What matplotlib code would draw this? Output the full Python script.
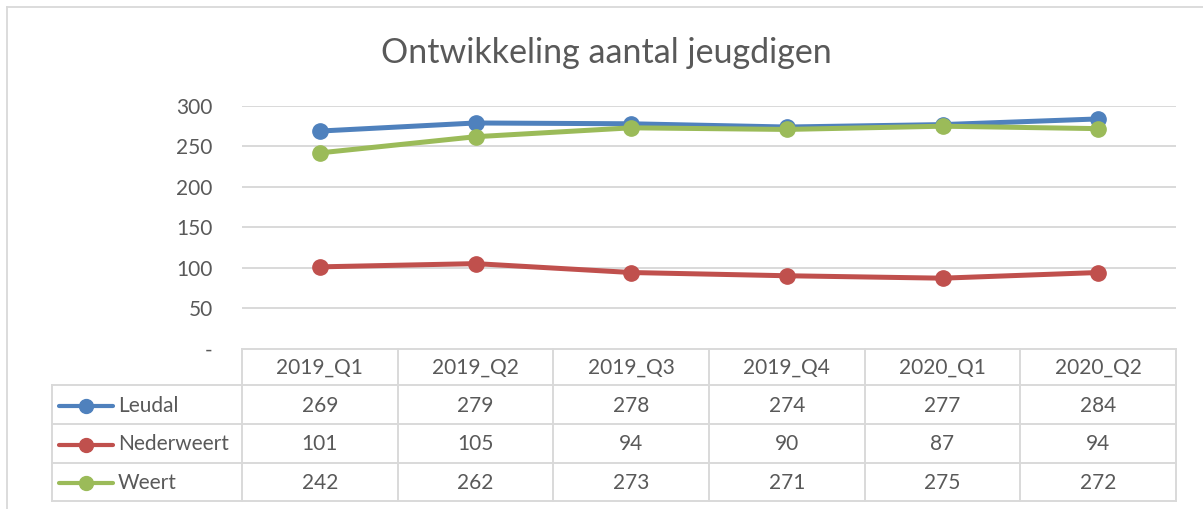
import matplotlib
matplotlib.use("Agg")
import matplotlib.pyplot as plt
from matplotlib.lines import Line2D

plt.rcParams['font.family'] = ['Lato', 'DejaVu Sans']

# ---- data ----
categories = ["2019_Q1", "2019_Q2", "2019_Q3", "2019_Q4", "2020_Q1", "2020_Q2"]
series_names = ["Leudal", "Nederweert", "Weert"]
leudal = [269, 279, 278, 274, 277, 284]
nederweert = [101, 105, 94, 90, 87, 94]
weert = [242, 262, 273, 271, 275, 272]
series_values = [leudal, nederweert, weert]
colors = ["#4F81BD", "#C0504D", "#9BBB59"]
y_ticks = [0, 50, 100, 150, 200, 250, 300]
y_ticklabels = ["-", "50", "100", "150", "200", "250", "300"]
title = "Ontwikkeling aantal jeugdigen"

# ---- layout (pixels) ----
W, H = 1203, 509
TXT = "#595959"
GRID = "#D9D9D9"
fig = plt.figure(figsize=(W / 100, H / 100), dpi=100)
fig.patch.set_facecolor("white")

pl, pr, pt, pb = 242, 1176, 106, 348.5
ax = fig.add_axes([pl / W, 1 - pb / H, (pr - pl) / W, (pb - pt) / H])
ax.set_xlim(-0.5, len(categories) - 0.5)
ax.set_ylim(0, 300)
for s in ax.spines.values():
    s.set_visible(False)
ax.set_xticks([])
ax.set_yticks(y_ticks)
ax.set_yticklabels(y_ticklabels)
ax.tick_params(axis="y", length=0, pad=21, labelsize=15, labelcolor=TXT)
for v in y_ticks[1:]:
    ax.axhline(v, color=GRID, lw=1.4, zorder=1)
ax.set_facecolor("none")

x = list(range(len(categories)))
for name, vals, c in zip(series_names, series_values, colors):
    ax.plot(x, vals, color=c, lw=3.6, marker="o", markersize=11,
            solid_capstyle="round", zorder=3, clip_on=False)

# ---- overlay in pixel coordinates for table / border ----
ov = fig.add_axes([0, 0, 1, 1], zorder=-1)
ov.set_xlim(0, W)
ov.set_ylim(H, 0)
ov.axis("off")

# outer chart border
ov.add_line(Line2D([7, 7], [7, H], color=GRID, lw=1.3))
ov.add_line(Line2D([7, W], [7, 7], color=GRID, lw=1.3))

# title
ov.text(606, 53, title, ha="center", va="center", fontsize=24.5, color=TXT)

# table geometry
ncol = len(categories)
colw = (pr - pl) / ncol
tleft = 52
row_y = [349, 385, 424, 463, 501]
lw_t = 1.4
# horizontal lines
ov.add_line(Line2D([pl, pr], [row_y[0], row_y[0]], color=GRID, lw=lw_t))
for yy in row_y[1:]:
    ov.add_line(Line2D([tleft, pr], [yy, yy], color=GRID, lw=lw_t))
# vertical lines
ov.add_line(Line2D([tleft, tleft], [row_y[1], row_y[-1]], color=GRID, lw=lw_t))
for i in range(ncol + 1):
    xx = pl + i * colw
    ov.add_line(Line2D([xx, xx], [row_y[0], row_y[-1]], color=GRID, lw=lw_t))

fs = 15
# header
for i, cat in enumerate(categories):
    ov.text(pl + (i + 0.5) * colw, (row_y[0] + row_y[1]) / 2 + 1, cat,
            ha="center", va="center", fontsize=fs, color=TXT)
# rows
for r, (name, vals, c) in enumerate(zip(series_names, series_values, colors)):
    yc = (row_y[r + 1] + row_y[r + 2]) / 2 + 1
    ov.add_line(Line2D([59, 113], [yc, yc], color=c, lw=3.0,
                       solid_capstyle="round"))
    ov.add_line(Line2D([86], [yc], color=c, marker="o", markersize=10,
                       linestyle="none"))
    ov.text(118, yc, name, ha="left", va="center", fontsize=fs, color=TXT)
    for i, v in enumerate(vals):
        ov.text(pl + (i + 0.5) * colw, yc, str(v), ha="center", va="center",
                fontsize=fs, color=TXT)

fig.savefig("out.png", dpi=100)
